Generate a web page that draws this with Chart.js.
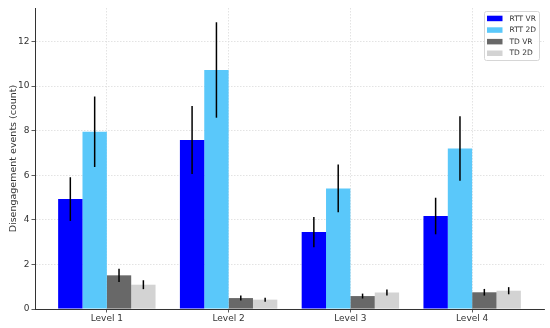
<!DOCTYPE html>
<html>
<head>
<meta charset="utf-8">
<script src="https://cdn.jsdelivr.net/npm/chart.js@4.4.1/dist/chart.umd.min.js"></script>
<style>
    html, body { margin: 0; padding: 0; background: #fff; }
    #wrap { width: 550px; height: 328px; }
</style>
</head>
<body>
<div id="wrap"><canvas id="chart"></canvas></div>
<script>
/* Chart values */
const levels = ['Level 1', 'Level 2', 'Level 3', 'Level 4'];
const seriesNames = ['RTT VR', 'RTT 2D', 'TD VR', 'TD 2D'];

const rttVr = [4.93, 7.58, 3.45, 4.17];
const rtt2d = [7.95, 10.72, 5.41, 7.20];
const tdVr = [1.51, 0.49, 0.58, 0.75];
const td2d = [1.09, 0.42, 0.74, 0.82];

const rttVrErr = [0.98, 1.52, 0.68, 0.82];
const rtt2dErr = [1.58, 2.14, 1.07, 1.45];
const tdVrErr = [0.30, 0.11, 0.11, 0.15];
const td2dErr = [0.20, 0.09, 0.14, 0.16];

const yTicks = [0, 2, 4, 6, 8, 10, 12];

const colors = ['#0000ff', '#5ac8fa', '#686868', '#d3d3d3'];
const FONT = 'DejaVu Sans';


function toPoints(values) {
    return values.map((v, i) => ({x: i, y: v}));
}


/* Draw black error bars on top of each bar */
const errorBars = {
    id: 'errorBars',
    afterDatasetsDraw(chart) {
        const ctx = chart.ctx;
        const yScale = chart.scales.y;
        ctx.save();
        ctx.strokeStyle = '#000';
        ctx.lineWidth = 1.5;
        chart.data.datasets.forEach((ds, di) => {
            const meta = chart.getDatasetMeta(di);
            meta.data.forEach((bar, i) => {
                const v = ds.data[i].y;
                const e = ds.errors[i];
                ctx.beginPath();
                ctx.moveTo(bar.x, yScale.getPixelForValue(v + e));
                ctx.lineTo(bar.x, yScale.getPixelForValue(v - e));
                ctx.stroke();
            });
        });
        ctx.restore();
    }
};


/* Legend drawn inside the plot, top right, like matplotlib */
const boxLegend = {
    id: 'boxLegend',
    afterDraw(chart) {
        const ctx = chart.ctx;
        const area = chart.chartArea;
        const w = 55, h = 49;
        const x0 = area.right - w - 4.5, y0 = 11.5;
        ctx.save();
        ctx.fillStyle = 'rgba(255,255,255,0.85)';
        ctx.strokeStyle = '#d6d6d6';
        ctx.lineWidth = 1;
        ctx.beginPath();
        ctx.roundRect(x0, y0, w, h, 2);
        ctx.fill();
        ctx.stroke();
        ctx.font = '7.5px "' + FONT + '"';
        ctx.textBaseline = 'middle';
        chart.data.datasets.forEach((ds, i) => {
            const cy = y0 + 6.7 + i * 11.6;
            ctx.fillStyle = ds.backgroundColor;
            ctx.fillRect(x0 + 2.5, cy - 2.5, 15.5, 5.5);
            ctx.fillStyle = '#333';
            ctx.fillText(ds.label, x0 + 25, cy + 0.5);
        });
        ctx.restore();
    }
};


const series = [rttVr, rtt2d, tdVr, td2d];
const errors = [rttVrErr, rtt2dErr, tdVrErr, td2dErr];

new Chart(document.getElementById('chart'), {
    type: 'bar',
    data: {
        datasets: series.map((s, i) => ({
            label: seriesNames[i],
            data: toPoints(s),
            errors: errors[i],
            backgroundColor: colors[i],
            borderWidth: 0,
            categoryPercentage: 0.8,
            barPercentage: 1.0
        }))
    },
    options: {
        responsive: true,
        maintainAspectRatio: false,
        animation: false,
        layout: {padding: {top: 8, right: 6, left: 0, bottom: 0}},
        plugins: {
            legend: {display: false},
            tooltip: {enabled: false}
        },
        scales: {
            x: {
                type: 'linear',
                offset: false,
                min: -0.59,
                max: 3.59,
                afterBuildTicks: (scale) => {
                    scale.ticks = levels.map((l, i) => ({value: i}));
                },
                afterFit: (scale) => { scale.height = 19; },
                ticks: {
                    callback: (v) => levels[v],
                    font: {family: FONT, size: 9},
                    color: '#333',
                    padding: 1,
                    maxRotation: 0,
                    autoSkip: false
                },
                grid: {
                    color: '#dcdcdc',
                    lineWidth: 0.8,
                    offset: false,
                    tickLength: 3.5,
                    tickColor: '#333',
                    tickWidth: 0.8
                },
                border: {display: true, color: '#333', width: 1, dash: [1.5, 1.5]}
            },
            y: {
                min: 0,
                max: 13.5,
                afterBuildTicks: (scale) => {
                    scale.ticks = yTicks.map((v) => ({value: v}));
                },
                afterFit: (scale) => { scale.width = 35; },
                ticks: {
                    font: {family: FONT, size: 9},
                    color: '#333',
                    padding: 2
                },
                grid: {
                    color: '#dcdcdc',
                    lineWidth: 0.8,
                    tickLength: 3.5,
                    tickColor: '#333',
                    tickWidth: 0.8
                },
                border: {display: true, color: '#333', width: 1, dash: [1.5, 1.5]},
                title: {
                    display: true,
                    text: 'Disengagement events (count)',
                    font: {family: FONT, size: 9.5},
                    color: '#333',
                    padding: {top: 8, bottom: 0}
                }
            }
        }
    },
    plugins: [errorBars, boxLegend]
});
</script>
</body>
</html>
